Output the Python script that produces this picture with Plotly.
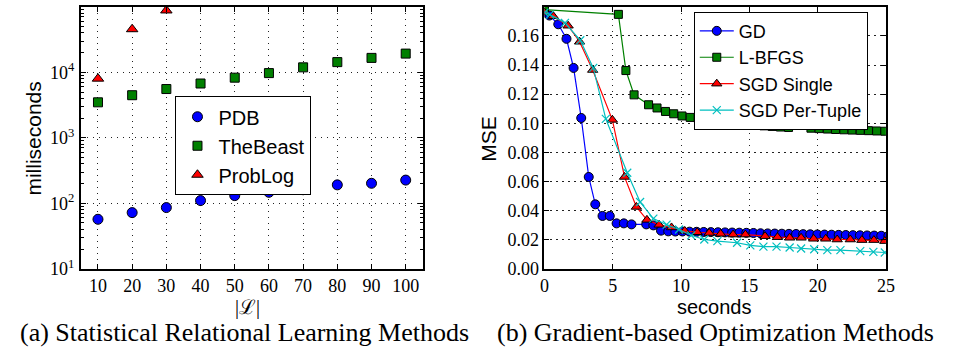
import plotly.graph_objects as go

# ---------------- data: (a) Statistical Relational Learning Methods ----------------
L_sizes = [10, 20, 30, 40, 50, 60, 70, 80, 90, 100]
pdb_ms = [57, 72, 86, 110, 131, 147, 161, 191, 202, 226]
thebeast_ms = [3480, 4470, 5550, 6740, 8280, 9720, 11900, 14300, 16600, 19300]
problog_sizes = [10, 20, 30]
problog_ms = [8000, 45500, 88000]

# ---------------- data: (b) Gradient-based Optimization Methods ----------------
gd_t = [0, 0.36, 1.01, 1.61, 2.13, 2.69, 3.24, 3.72, 4.25, 4.78, 5.28, 5.81, 6.37, 7.45,
        7.97, 8.53, 9.06, 9.58, 10.1, 10.62, 11.14, 11.66, 12.18, 12.7, 13.22, 13.74,
        14.26, 14.78, 15.3, 15.82, 16.34, 16.86, 17.38, 17.9, 18.42, 18.94, 19.46, 19.98,
        20.5, 21.02, 21.54, 22.06, 22.58, 23.1, 23.62, 24.14, 24.66, 25.18]
gd_mse = [0.176, 0.174, 0.168, 0.158, 0.138, 0.1036, 0.0631, 0.0443, 0.0363, 0.0363,
          0.0312, 0.0312, 0.0305, 0.0305, 0.0298, 0.0262, 0.0257, 0.0256, 0.0256, 0.0255,
          0.0254, 0.0253, 0.0252, 0.0251, 0.025, 0.0249, 0.0248, 0.0247, 0.0246, 0.0244,
          0.0243, 0.0242, 0.0241, 0.024, 0.0239, 0.0238, 0.0237, 0.0236, 0.0235, 0.0234,
          0.0233, 0.0232, 0.0231, 0.023, 0.0229, 0.0228, 0.0227, 0.0226]

lbfgs_t = [0, 5.41, 5.96, 6.56, 7.62, 8.24, 8.86, 9.46, 10.07, 10.67, 11.27, 11.87, 12.47,
           13.07, 13.67, 14.27, 14.87, 15.47, 16.07, 16.67, 17.27, 17.87, 19.51, 20.11,
           20.71, 21.31, 21.92, 22.52, 23.12, 23.72, 24.32, 24.92]
lbfgs_mse = [0.178, 0.1748, 0.1362, 0.1195, 0.1127, 0.1105, 0.1081, 0.1065, 0.105, 0.104,
             0.1032, 0.1024, 0.1017, 0.101, 0.1004, 0.0998, 0.0992, 0.0987, 0.0982, 0.0978,
             0.0974, 0.0971, 0.0966, 0.0963, 0.096, 0.0957, 0.0955, 0.0953, 0.0951, 0.0949,
             0.0947, 0.0945]

sgd_single_t = [0, 0.65, 1.73, 2.57, 3.53, 4.97, 5.86, 6.73, 7.5, 8.39, 9.3, 10.27, 11.18,
                12.06, 12.9, 13.81, 14.71, 16.15, 17.06, 17.95, 18.79, 19.71, 20.59, 21.43,
                22.39, 23.24, 24.12, 24.92]
sgd_single_mse = [0.176, 0.1735, 0.167, 0.156, 0.1366, 0.1023, 0.0631, 0.0425, 0.0336,
                  0.0302, 0.0284, 0.026, 0.0251, 0.0246, 0.024, 0.0235, 0.0235, 0.0224,
                  0.0217, 0.0213, 0.0213, 0.0206, 0.0206, 0.0201, 0.0201, 0.0197, 0.0197,
                  0.019]

sgd_tuple_t = [0, 0.4, 1.5, 2.62, 3.57, 4.49, 6.06, 7.0, 7.97, 8.94, 9.85, 10.74, 11.7,
               12.66, 14.1, 15.07, 16.03, 16.99, 17.95, 18.79, 19.75, 20.71, 21.67, 23.12,
               24.08, 24.92]
sgd_tuple_mse = [0.176, 0.1746, 0.169, 0.157, 0.138, 0.103, 0.066, 0.0459, 0.0345, 0.0303,
                 0.027, 0.023, 0.0201, 0.019, 0.0179, 0.0161, 0.0152, 0.0152, 0.0146,
                 0.0139, 0.0134, 0.0128, 0.0128, 0.0121, 0.0116, 0.0112]

# tick labels
log_tickvals = [10, 100, 1000, 10000, 100000]
log_ticktext = ["10<sup>1</sup>", "10<sup>2</sup>", "10<sup>3</sup>", "10<sup>4</sup>", "10<sup>5</sup>"]
log_minor = [m * 10 ** k for k in range(1, 5) for m in range(2, 10)]
mse_ticks = [0, 0.02, 0.04, 0.06, 0.08, 0.10, 0.12, 0.14, 0.16, 0.18]
sec_ticks = [0, 5, 10, 15, 20, 25]

BLUE, GREEN, RED, CYAN = "#0000ff", "#008000", "#ff0000", "#00bfbf"
SANS = "Liberation Sans"
SERIF = "Liberation Serif"

fig = go.Figure()

edge = dict(color="black", width=1)
# left panel
fig.add_trace(go.Scatter(x=L_sizes, y=pdb_ms, mode="markers", name="PDB",
                         marker=dict(symbol="circle", size=10, color=BLUE, line=edge),
                         xaxis="x", yaxis="y", legend="legend"))
fig.add_trace(go.Scatter(x=L_sizes, y=thebeast_ms, mode="markers", name="TheBeast",
                         marker=dict(symbol="square", size=9, color=GREEN, line=edge),
                         xaxis="x", yaxis="y", legend="legend"))
fig.add_trace(go.Scatter(x=problog_sizes, y=problog_ms, mode="markers", name="ProbLog",
                         marker=dict(symbol="triangle-up", size=10, color=RED, line=edge),
                         xaxis="x", yaxis="y", legend="legend"))

# right panel
fig.add_trace(go.Scatter(x=gd_t, y=gd_mse, mode="lines+markers", name="GD",
                         line=dict(color=BLUE, width=1.2),
                         marker=dict(symbol="circle", size=9, color=BLUE, line=edge),
                         xaxis="x2", yaxis="y2", legend="legend2"))
fig.add_trace(go.Scatter(x=lbfgs_t, y=lbfgs_mse, mode="lines+markers", name="L-BFGS",
                         line=dict(color=GREEN, width=1.2),
                         marker=dict(symbol="square", size=8, color=GREEN, line=edge),
                         xaxis="x2", yaxis="y2", legend="legend2"))
fig.add_trace(go.Scatter(x=sgd_single_t, y=sgd_single_mse, mode="lines+markers", name="SGD Single",
                         line=dict(color=RED, width=1.2),
                         marker=dict(symbol="triangle-up", size=9, color=RED, line=edge),
                         xaxis="x2", yaxis="y2", legend="legend2"))
fig.add_trace(go.Scatter(x=sgd_tuple_t, y=sgd_tuple_mse, mode="lines+markers", name="SGD Per-Tuple",
                         line=dict(color=CYAN, width=1.2),
                         marker=dict(symbol="x-thin", size=8, color=CYAN, line=dict(color=CYAN, width=1.2)),
                         xaxis="x2", yaxis="y2", legend="legend2"))

H = 358.0
W = 957.0
ytop, ybot = 7, 276.5
ydom = [1 - ybot / H, 1 - ytop / H]

common = dict(showline=True, linecolor="black", linewidth=2, mirror="ticks",
              ticks="inside", ticklen=5, tickwidth=1, tickcolor="black",
              showgrid=True, gridcolor="#222", gridwidth=1, griddash="1.5px,4.5px",
              zeroline=False, tickfont=dict(family=SERIF, size=18, color="black"))

fig.update_layout(
    width=957, height=358, autosize=False,
    margin=dict(l=0, r=0, t=0, b=0),
    paper_bgcolor="white", plot_bgcolor="white",
    xaxis=dict(domain=[77 / W, 424 / W], anchor="y", range=[5, 105],
               tickvals=L_sizes, ticklabelstandoff=0, **common),
    yaxis=dict(domain=ydom, anchor="x", type="log", range=[0.99999, 5.00001],
               tickvals=log_tickvals, ticktext=log_ticktext, ticklabelstandoff=1,
               minor=dict(tickvals=log_minor, ticks="inside", ticklen=3, tickcolor="black",
                          showgrid=False),
               **common),
    xaxis2=dict(domain=[547.5 / W, 894 / W], anchor="y2", range=[0, 25],
                tickvals=sec_ticks, ticklabelstandoff=0, **common),
    yaxis2=dict(domain=ydom, anchor="x2", range=[-0.000001, 0.180001],
                tickvals=mse_ticks, ticklabelstandoff=0,
                tickformat=".2f", **common),
    legend=dict(x=173 / W, y=1 - 99 / H, xanchor="left", yanchor="top",
                bgcolor="white", bordercolor="black", borderwidth=1,
                font=dict(family=SANS, size=20, color="black"),
                itemwidth=32, tracegroupgap=0),
    legend2=dict(x=699 / W, y=1 - 12 / H, xanchor="left", yanchor="top",
                 bgcolor="white", bordercolor="black", borderwidth=1,
                 font=dict(family=SANS, size=18, color="black"),
                 itemwidth=34, tracegroupgap=0),
    showlegend=True,
)

annotations = [
    dict(text="milliseconds", x=28 / W, y=1 - 143 / H, textangle=-90,
         font=dict(family=SANS, size=21, color="black")),
    dict(text="MSE", x=490 / W, y=1 - 143 / H, textangle=-90,
         font=dict(family=SANS, size=21, color="black")),
    dict(text="seconds", x=720 / W, y=1 - 316 / H,
         font=dict(family=SANS, size=20, color="black")),
    dict(text="|ℒ|", x=246 / W, y=1 - 316 / H,
         font=dict(family=SERIF, size=20, color="black")),
    dict(text="(a) Statistical Relational Learning Methods", x=243 / W, y=1 - 342.5 / H,
         font=dict(family=SERIF, size=26, color="black")),
    dict(text="(b) Gradient-based Optimization Methods", x=721 / W, y=1 - 342.5 / H,
         font=dict(family=SERIF, size=26, color="black")),
]
for a in annotations:
    a.update(xref="paper", yref="paper", showarrow=False, xanchor="center", yanchor="middle")
fig.update_layout(annotations=annotations)

fig.write_html("out.html")
